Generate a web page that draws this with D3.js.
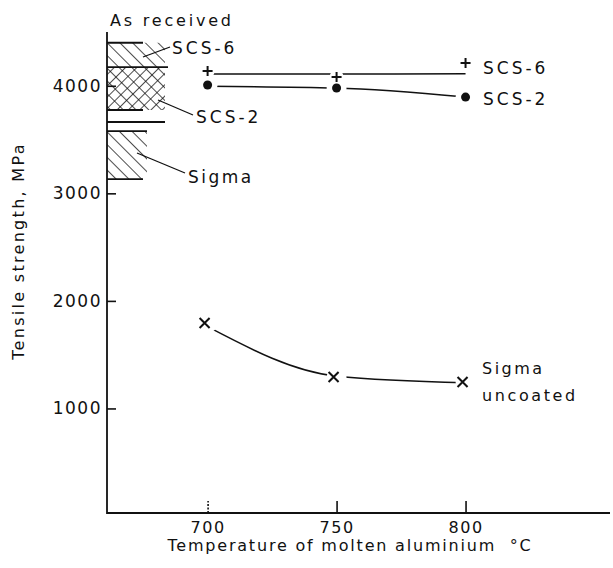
<!DOCTYPE html>
<html>
<head>
<meta charset="utf-8">
<script src="https://cdn.jsdelivr.net/npm/d3@7"></script>
<style>
  body { margin: 0; background: #fff; }
  text { font-family: "DejaVu Sans", sans-serif; fill: #111; }
</style>
</head>
<body>
<div id="chart"></div>
<script>
// temperatures of the molten aluminium bath
const temps = [700, 750, 800];
// measured points
const scs6Points = [4137, 4081, 4212];
const scs2Points = [4007, 3979, 3895];
const sigmaPoints = [1794, 1292, 1246];
// hand drawn trend lines
const scs6Trend = [4110, 4110, 4112];
const scs2Trend = [3995, 3979, 3895];
const sigmaTrend = [1760, 1300, 1240];
// "As received" strength bands (high, low)
const bandNames = ["SCS-6", "SCS-2", "Sigma"];
const bandHigh = [4400, 4174, 3579];
const bandLow = [3775, 3775, 3133];
const bandEdges = [4400, 4174, 3775, 3663, 3579, 3133];
const yTicks = [1000, 2000, 3000, 4000];
const xTicks = [700, 750, 800];

const width = 613, height = 568;
const svg = d3.select("#chart").append("svg")
    .attr("width", width)
    .attr("height", height);

const x = d3.scaleLinear().domain([661, 856]).range([107, 610]);
const y = d3.scaleLinear().domain([0, 4500]).range([516, 32]);
const axisY = 513;

const defs = svg.append("defs");
function hatch(id, angle, gap) {
    const p = defs.append("pattern")
        .attr("id", id)
        .attr("patternUnits", "userSpaceOnUse")
        .attr("width", gap).attr("height", gap)
        .attr("patternTransform", `rotate(${angle})`);
    p.append("line")
        .attr("x1", 0).attr("y1", -1).attr("x2", 0).attr("y2", gap + 1)
        .attr("stroke", "#111").attr("stroke-width", 1.5);
}
hatch("back", -45, 9);
hatch("fwd", 45, 8);

// bands
const bandWidth = [58, 58, 40];
const bandFill = ["url(#back)", "url(#fwd)", "url(#back)"];
svg.append("g").selectAll("rect")
    .data(bandNames)
    .join("rect")
    .attr("x", x(661))
    .attr("y", (d, i) => y(bandHigh[i]))
    .attr("width", (d, i) => bandWidth[i])
    .attr("height", (d, i) => y(bandLow[i]) - y(bandHigh[i]))
    .attr("fill", (d, i) => bandFill[i]);

const edgeLen = [36, 61, 36, 58, 40, 36];
svg.append("g").selectAll("line")
    .data(bandEdges)
    .join("line")
    .attr("x1", x(661))
    .attr("x2", (d, i) => x(661) + edgeLen[i])
    .attr("y1", d => y(d)).attr("y2", d => y(d))
    .attr("stroke", "#111").attr("stroke-width", 1.8);

// axes
const yAxis = svg.append("g")
    .attr("transform", `translate(${x(661)},0)`)
    .call(d3.axisLeft(y).tickValues(yTicks).tickFormat(d3.format("d"))
        .tickSize(-9).tickPadding(5).tickSizeOuter(0));
yAxis.select(".domain").remove();
yAxis.selectAll("line").attr("stroke", "#111").attr("stroke-width", 1.6);
yAxis.selectAll("text")
    .style("font-size", "17px").style("letter-spacing", "1.5px")
    .attr("fill", "#111");

const xAxis = svg.append("g")
    .attr("transform", `translate(0,${axisY})`)
    .call(d3.axisBottom(x).tickValues(xTicks).tickSize(-12).tickPadding(9).tickSizeOuter(0));
xAxis.select(".domain").remove();
xAxis.selectAll("line").attr("stroke", "#111").attr("stroke-width", 1.6)
    .attr("stroke-dasharray", d => d === 700 ? "2,1.5" : null);
xAxis.selectAll("text")
    .style("font-size", "16px").style("letter-spacing", "1.5px")
    .attr("fill", "#111");

// frame (left and bottom)
svg.append("path")
    .attr("d", `M${x(661)},32V${axisY}H${x(856)}`)
    .attr("fill", "none").attr("stroke", "#111").attr("stroke-width", 1.8);

// trend lines
const line = d3.line()
    .x((d, i) => x(temps[i]))
    .y(d => y(d))
    .curve(d3.curveMonotoneX);
[scs6Trend, scs2Trend, sigmaTrend].forEach(s => {
    svg.append("path").attr("d", line(s))
        .attr("fill", "none").attr("stroke", "#111").attr("stroke-width", 1.5);
});

// white gaps around markers
const halos = svg.append("g");
[[scs6Points, 7], [scs2Points, 10], [sigmaPoints, 10]].forEach(([s, r]) => {
    halos.selectAll(null).data(s).join("circle")
        .attr("cx", (d, i) => x(temps[i])).attr("cy", d => y(d))
        .attr("r", r).attr("fill", "#fff");
});

// markers
const mk = svg.append("g").attr("stroke", "#111").attr("stroke-width", 2).attr("fill", "none");
mk.selectAll(".plus").data(scs6Points).join("path")
    .attr("class", "plus")
    .attr("d", (d, i) => { const cx = x(temps[i]), cy = y(d);
        return `M${cx - 5},${cy}H${cx + 5}M${cx},${cy - 5}V${cy + 5}`; });
mk.selectAll(".cross").data(sigmaPoints).join("path")
    .attr("class", "cross")
    .attr("d", (d, i) => { const cx = x(temps[i]) - 3, cy = y(d);
        return `M${cx - 5},${cy - 5}L${cx + 5},${cy + 5}M${cx + 5},${cy - 5}L${cx - 5},${cy + 5}`; });
svg.append("g").selectAll("circle").data(scs2Points).join("circle")
    .attr("cx", (d, i) => x(temps[i])).attr("cy", d => y(d))
    .attr("r", 4.5).attr("fill", "#111");

// labels
function label(t, lx, ly, size, sp) {
    svg.append("text").attr("x", lx).attr("y", ly)
        .style("font-size", (size || 17) + "px")
        .style("letter-spacing", (sp || 3) + "px")
        .text(t);
}
label("As received", 110, 26, 16, 2.8);
label("SCS-6", 172, 54);
label("SCS-2", 196, 123);
label("Sigma", 188, 183, 17, 2.5);
label("SCS-6", 483, 74);
label("SCS-2", 483, 105);
label("Sigma", 482, 374, 16, 2.5);
label("uncoated", 482, 401, 16, 2.6);

// leaders
const leaders = [
    [143, 57, 170, 47],
    [158, 100, 193, 115],
    [137, 153, 185, 173]
];
svg.append("g").selectAll("line").data(leaders).join("line")
    .attr("x1", d => d[0]).attr("y1", d => d[1])
    .attr("x2", d => d[2]).attr("y2", d => d[3])
    .attr("stroke", "#111").attr("stroke-width", 1.3);

// axis titles
svg.append("text")
    .attr("transform", "translate(24,251) rotate(-90)")
    .attr("text-anchor", "middle")
    .style("font-size", "16px").style("letter-spacing", "2.3px")
    .text("Tensile strength, MPa");
svg.append("text")
    .attr("x", 350).attr("y", 551)
    .attr("text-anchor", "middle")
    .style("font-size", "16px").style("letter-spacing", "1.8px")
    .style("white-space", "pre")
    .text("Temperature of molten aluminium  \u00b0C");
</script>
</body>
</html>
